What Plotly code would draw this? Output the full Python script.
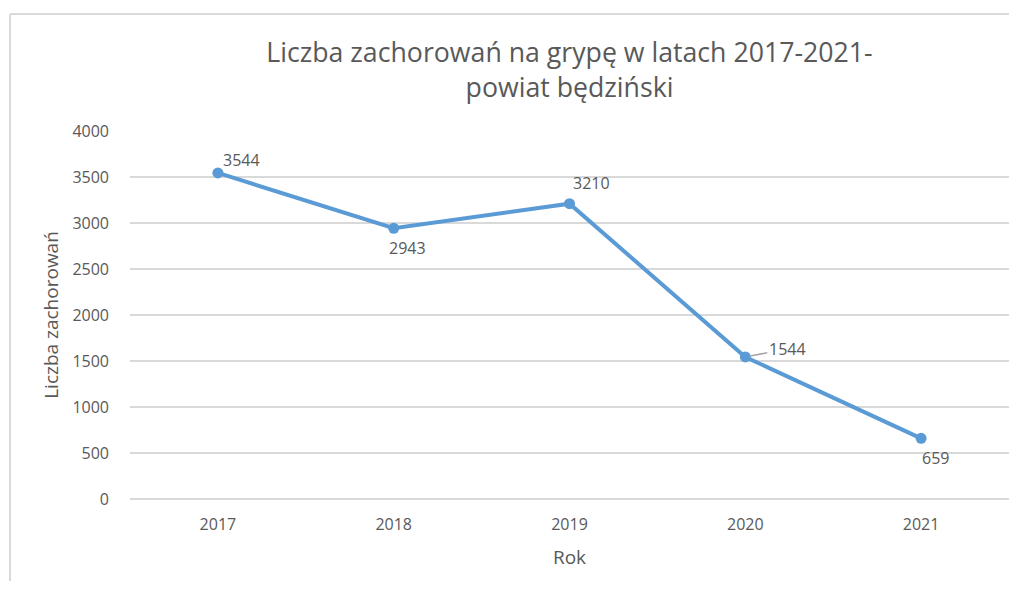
import plotly.graph_objects as go

years = [2017, 2018, 2019, 2020, 2021]
cases = [3544, 2943, 3210, 1544, 659]
label_pos = ["above-right", "below", "above", "right", "below"]

y_ticks = [0, 500, 1000, 1500, 2000, 2500, 3000, 3500, 4000]

title_text = "Liczba zachorowań na grypę w latach 2017-2021-<br>powiat będziński"
x_title = "Rok"
y_title = "Liczba zachorowań"

line_color = "#5B9BD5"
text_color = "#595959"
grid_color = "#D9D9D9"
font_family = "Open Sans, Arial, sans-serif"

fig = go.Figure()
fig.add_trace(go.Scatter(
    x=years, y=cases, mode="lines+markers",
    line=dict(color=line_color, width=4),
    marker=dict(color=line_color, size=11),
    hoverinfo="x+y", showlegend=False,
))

shifts = {
    "above-right": dict(xshift=24, yshift=13, showarrow=False),
    "below": dict(xshift=14, yshift=-20, showarrow=False),
    "above": dict(xshift=22, yshift=21, showarrow=False),
}
for yr, v, pos in zip(years, cases, label_pos):
    if pos == "right":
        fig.add_annotation(x=yr, y=v, text=str(v), showarrow=True,
                           ax=42, ay=-8, arrowhead=0, arrowwidth=1.5,
                           arrowcolor="#A6A6A6", standoff=5,
                           font=dict(size=16, color=text_color, family=font_family))
    else:
        fig.add_annotation(x=yr, y=v, text=str(v),
                           font=dict(size=16, color=text_color, family=font_family),
                           **shifts[pos])

# outer chart border (left and top edges visible)
fig.add_shape(type="line", xref="paper", yref="paper",
              x0=-0.1365, x1=-0.1365, y0=-0.3, y1=1.318,
              line=dict(color=grid_color, width=2), layer="below")
fig.add_shape(type="line", xref="paper", yref="paper",
              x0=-0.1365, x1=1.1, y0=1.318, y1=1.318,
              line=dict(color=grid_color, width=2), layer="below")

fig.update_layout(
    width=1001, height=573,
    margin=dict(l=122, r=0, t=123, b=82),
    paper_bgcolor="white", plot_bgcolor="white",
    font=dict(family=font_family, color=text_color),
    title=dict(text=title_text, x=0.5, xref="paper", xanchor="center",
               y=1 - 54 / 573, yref="container", yanchor="top",
               font=dict(size=26.7, color=text_color, family=font_family)),
    xaxis=dict(range=[2016.5, 2021.5], tickvals=years, ticktext=[str(y) for y in years],
               showgrid=False, showline=False, zeroline=False,
               tickfont=dict(size=16, color=text_color), ticklabelstandoff=14,
               title=dict(text=x_title, font=dict(size=19, color=text_color), standoff=16)),
    yaxis=dict(range=[0, 4000], tickvals=y_ticks, showgrid=True, gridcolor=grid_color,
               gridwidth=1.5, zeroline=True, zerolinecolor=grid_color, zerolinewidth=1.5,
               showline=False, tickfont=dict(size=16, color=text_color), ticklabelstandoff=20,
               title=dict(text=y_title, font=dict(size=19, color=text_color), standoff=8)),
)

fig.write_html("out.html")
